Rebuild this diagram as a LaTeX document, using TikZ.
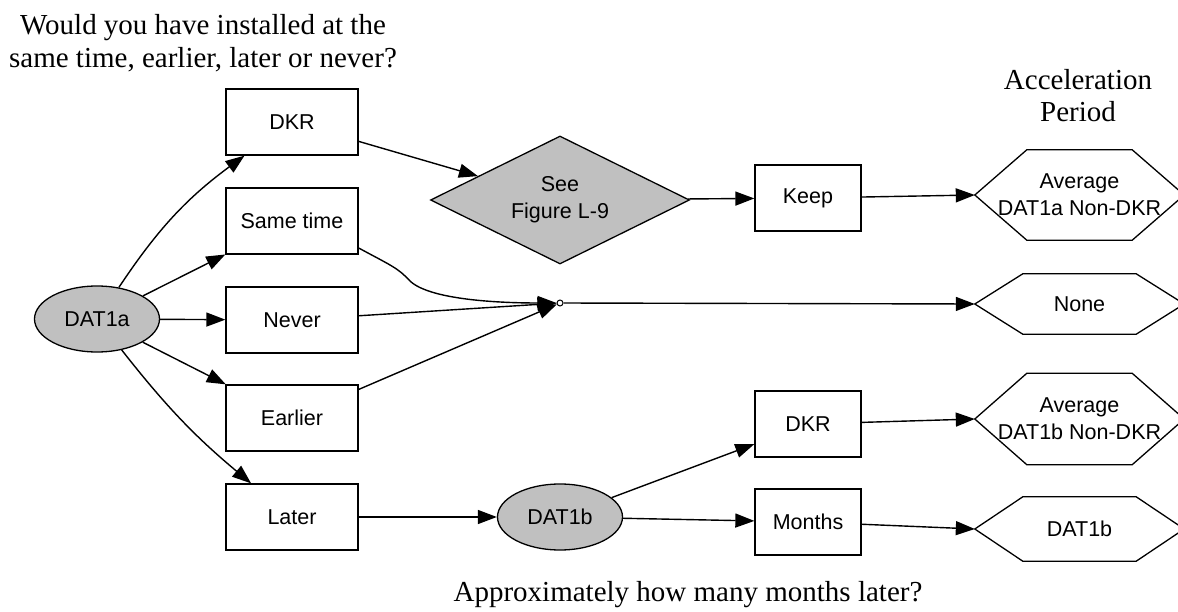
\documentclass[tikz,border=0pt]{standalone}
\usepackage{fontspec}
\setmainfont{Liberation Serif}
\newfontfamily\arialfont{Liberation Sans}
\usetikzlibrary{shapes.geometric,arrows.meta}
\definecolor{nodegray}{HTML}{C0C0C0}
\newcommand\drawhex[2]{\draw[line width=1.3pt] (#1.west) -- ([xshift=#2]#1.north west) -- ([xshift=-#2]#1.north east) -- (#1.east) -- ([xshift=-#2]#1.south east) -- ([xshift=#2]#1.south west) -- cycle;}
\begin{document}
\begin{tikzpicture}[x=1pt,y=-1pt,
  every node/.style={font=\arialfont\fontsize{21.5}{27}\selectfont},
  box/.style={draw, line width=1.3pt, rectangle, minimum width=132pt, minimum height=66pt, inner sep=0pt},
  sbox/.style={box, minimum width=106pt},
  oval/.style={draw, line width=1.3pt, ellipse, fill=nodegray, minimum width=125pt, minimum height=66pt, inner sep=0pt},
  hexa/.style={minimum width=209pt, inner sep=0pt, align=center},
  arr/.style={line width=1.4pt, -{Triangle[length=19pt,width=14pt]}},
  lbl/.style={font=\fontsize{29}{33}\selectfont, anchor=base, inner sep=0pt}
]
\useasboundingbox (0,0) rectangle (1178,612);

% titles
\node[lbl] (t1) at (203,35) {Would you have installed at the};
\node[lbl] (t2) at (203,68) {same time, earlier, later or never?};
\node[lbl] (p1) at (1078,90) {Acceleration};
\node[lbl] (p2) at (1078,122) {Period};
\node[lbl] (q1) at (688,601) {Approximately how many months later?};

% nodes
\node[oval] (a) at (97,319) {DAT1a};
\node[box] (dkr) at (292,122) {DKR};
\node[box] (st) at (292,221) {Same time};
\node[box] (nv) at (292,320) {Never};
\node[box] (ea) at (292,418) {Earlier};
\node[box] (la) at (292,517) {Later};
\node[draw, diamond, fill=nodegray, line width=1.3pt, minimum width=259pt, minimum height=128pt, inner sep=0pt, aspect=2, align=center] (dia) at (560,200) {See\\Figure L-9};
\node[sbox] (keep) at (808,198) {Keep};
\node[oval] (b) at (560,517) {DAT1b};
\node[sbox] (dkr2) at (808,424) {DKR};
\node[sbox] (mo) at (808,522) {Months};
\node[circle, draw, line width=1pt, fill=white, minimum size=6pt, inner sep=0pt] (jn) at (560,303) {};

\node[hexa, minimum height=90pt] (h1) at (1079.5,195) {Average\\DAT1a Non-DKR};
\node[hexa, minimum height=60pt] (h2) at (1079.5,304) {None};
\node[hexa, minimum height=91pt] (h3) at (1079.5,419) {Average\\DAT1b Non-DKR};
\node[hexa, minimum height=64pt] (h4) at (1079.5,529) {DAT1b};
\drawhex{h1}{52pt}
\drawhex{h2}{48pt}
\drawhex{h3}{52pt}
\drawhex{h4}{48pt}

% edges
\draw[arr] (a) to[bend left=10] (dkr);
\draw[arr] (a) -- (st);
\draw[arr] (a) -- (nv);
\draw[arr] (a) -- (ea);
\draw[arr] (a) to[bend right=6] (la);
\draw[arr] (dkr) -- (dia);
\draw[arr] (dia) -- (keep);
\draw[arr] (keep) -- (h1.west);
\draw[arr] ([yshift=-27pt]st.east) .. controls (392,266) and (398,268) .. (410,281) .. controls (430,300) and (500,303) .. (jn.west);
\draw[arr] (nv) -- (jn);
\draw[arr] (ea) -- (jn);
\draw[arr] (jn) -- (h2.west);
\draw[arr] (la) -- (b);
\draw[arr] (b) -- (dkr2);
\draw[arr] (b) -- (mo);
\draw[arr] (dkr2) -- (h3.west);
\draw[arr] (mo) -- (h4.west);
\end{tikzpicture}
\end{document}
